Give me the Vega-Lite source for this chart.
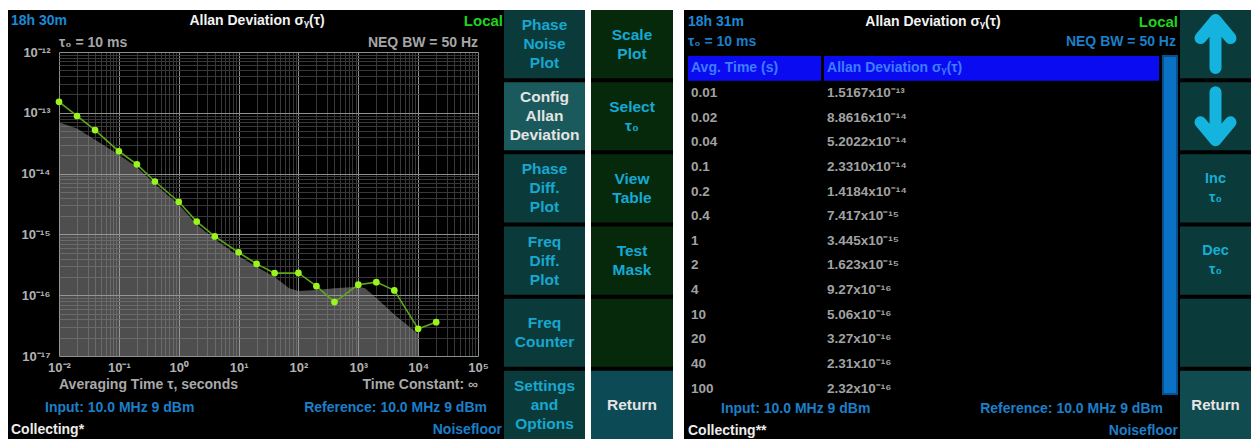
{
  "$schema": "https://vega.github.io/schema/vega-lite/v6.json",
  "background": "#000000",
  "padding": 0,
  "spacing": 0,
  "config": {
    "font": "Liberation Sans",
    "view": {"stroke": null},
    "concat": {"spacing": 0}
  },
  "datasets": {
    "adev": [
      {"tau": 0.01, "sigma": 1.5167e-13, "tauLabel": "0.01", "sigmaLabel": "1.5167x10⁻¹³"},
      {"tau": 0.02, "sigma": 8.8616e-14, "tauLabel": "0.02", "sigmaLabel": "8.8616x10⁻¹⁴"},
      {"tau": 0.04, "sigma": 5.2022e-14, "tauLabel": "0.04", "sigmaLabel": "5.2022x10⁻¹⁴"},
      {"tau": 0.1, "sigma": 2.3310e-14, "tauLabel": "0.1", "sigmaLabel": "2.3310x10⁻¹⁴"},
      {"tau": 0.2, "sigma": 1.4184e-14, "tauLabel": "0.2", "sigmaLabel": "1.4184x10⁻¹⁴"},
      {"tau": 0.4, "sigma": 7.417e-15, "tauLabel": "0.4", "sigmaLabel": "7.417x10⁻¹⁵"},
      {"tau": 1, "sigma": 3.445e-15, "tauLabel": "1", "sigmaLabel": "3.445x10⁻¹⁵"},
      {"tau": 2, "sigma": 1.623e-15, "tauLabel": "2", "sigmaLabel": "1.623x10⁻¹⁵"},
      {"tau": 4, "sigma": 9.27e-16, "tauLabel": "4", "sigmaLabel": "9.27x10⁻¹⁶"},
      {"tau": 10, "sigma": 5.06e-16, "tauLabel": "10", "sigmaLabel": "5.06x10⁻¹⁶"},
      {"tau": 20, "sigma": 3.27e-16, "tauLabel": "20", "sigmaLabel": "3.27x10⁻¹⁶"},
      {"tau": 40, "sigma": 2.31e-16, "tauLabel": "40", "sigmaLabel": "2.31x10⁻¹⁶"},
      {"tau": 100, "sigma": 2.32e-16, "tauLabel": "100", "sigmaLabel": "2.32x10⁻¹⁶"},
      {"tau": 200, "sigma": 1.41e-16},
      {"tau": 400, "sigma": 7.7e-17},
      {"tau": 1000, "sigma": 1.49e-16},
      {"tau": 2000, "sigma": 1.64e-16},
      {"tau": 4000, "sigma": 1.2e-16},
      {"tau": 10000, "sigma": 2.8e-17},
      {"tau": 20000, "sigma": 3.6e-17}
    ],
    "floor": [
      {"tau": 0.01, "sigma": 7.0e-14},
      {"tau": 0.02, "sigma": 5.5e-14},
      {"tau": 0.04, "sigma": 3.6e-14},
      {"tau": 0.1, "sigma": 2.05e-14},
      {"tau": 0.2, "sigma": 1.28e-14},
      {"tau": 0.4, "sigma": 6.7e-15},
      {"tau": 1, "sigma": 3.1e-15},
      {"tau": 2, "sigma": 1.45e-15},
      {"tau": 4, "sigma": 8.3e-16},
      {"tau": 10, "sigma": 4.4e-16},
      {"tau": 20, "sigma": 2.95e-16},
      {"tau": 40, "sigma": 2.0e-16},
      {"tau": 70, "sigma": 1.3e-16},
      {"tau": 100, "sigma": 1.17e-16},
      {"tau": 200, "sigma": 1.22e-16},
      {"tau": 400, "sigma": 1.3e-16},
      {"tau": 1000, "sigma": 1.38e-16},
      {"tau": 1300, "sigma": 1.3e-16},
      {"tau": 2000, "sigma": 9.0e-17},
      {"tau": 4000, "sigma": 4.8e-17},
      {"tau": 10000, "sigma": 2.3e-17}
    ],
    "leftHead": [
      {"id": "clock", "line": 1, "slot": "L", "text": "18h 30m"},
      {"id": "title", "line": 1, "slot": "C", "text": "Allan Deviation σᵧ(τ)"},
      {"id": "mode", "line": 1, "slot": "R", "text": "Local"}
    ],
    "plotNotes": [
      {"id": "tau0", "text": "τ₀ = 10 ms"},
      {"id": "bw", "text": "NEQ BW = 50 Hz"},
      {"id": "xtitle", "text": "Averaging Time τ, seconds"},
      {"id": "tc", "text": "Time Constant: ∞"}
    ],
    "rightHead": [
      {"id": "clock", "line": 1, "slot": "L", "text": "18h 31m"},
      {"id": "title", "line": 1, "slot": "C", "text": "Allan Deviation σᵧ(τ)"},
      {"id": "mode", "line": 1, "slot": "R", "text": "Local"},
      {"id": "tau0", "line": 2, "slot": "L", "text": "τ₀ = 10 ms"},
      {"id": "bw", "line": 2, "slot": "R", "text": "NEQ BW = 50 Hz"}
    ],
    "leftFoot": [
      {"id": "input", "line": "B", "slot": "L", "text": "Input: 10.0 MHz 9 dBm"},
      {"id": "ref", "line": "B", "slot": "R", "text": "Reference: 10.0 MHz 9 dBm"},
      {"id": "status", "line": "C", "slot": "L", "text": "Collecting*"},
      {"id": "meas", "line": "C", "slot": "R", "text": "Noisefloor"}
    ],
    "rightFoot": [
      {"id": "input", "line": "B", "slot": "L", "text": "Input: 10.0 MHz 9 dBm"},
      {"id": "ref", "line": "B", "slot": "R", "text": "Reference: 10.0 MHz 9 dBm"},
      {"id": "status", "line": "C", "slot": "L", "text": "Collecting**"},
      {"id": "meas", "line": "C", "slot": "R", "text": "Noisefloor"}
    ],
    "tableHead": [
      {"col": "time", "row": 0, "text": "Avg. Time (s)"},
      {"col": "adev", "row": 0, "text": "Allan Deviation σᵧ(τ)"}
    ],
    "btnA": [
      {"id": "a1", "label": "Phase\nNoise\nPlot", "state": "normal"},
      {"id": "a2", "label": "Config\nAllan\nDeviation", "state": "active"},
      {"id": "a3", "label": "Phase\nDiff.\nPlot", "state": "normal"},
      {"id": "a4", "label": "Freq\nDiff.\nPlot", "state": "normal"},
      {"id": "a5", "label": "Freq\nCounter", "state": "normal"},
      {"id": "a6", "label": "Settings\nand\nOptions", "state": "normal"}
    ],
    "btnB": [
      {"id": "b1", "label": "Scale\nPlot", "state": "normal"},
      {"id": "b2", "label": "Select\nτ₀", "state": "normal"},
      {"id": "b3", "label": "View\nTable", "state": "normal"},
      {"id": "b4", "label": "Test\nMask", "state": "normal"},
      {"id": "b5", "label": "", "state": "normal"},
      {"id": "b6", "label": "Return", "state": "return"}
    ],
    "btnC": [
      {"id": "c1", "label": "", "icon": "up", "state": "normal"},
      {"id": "c2", "label": "", "icon": "down", "state": "normal"},
      {"id": "c3", "label": "Inc\nτ₀", "icon": "", "state": "normal"},
      {"id": "c4", "label": "Dec\nτ₀", "icon": "", "state": "normal"},
      {"id": "c5", "label": "", "icon": "", "state": "normal"},
      {"id": "c6", "label": "Return", "icon": "", "state": "return"}
    ]
  },
  "resolve": {"scale": {"color": "independent", "fill": "independent"}},
  "vconcat": [
    {
      "width": 1251,
      "height": 10,
      "view": {"fill": "#ffffff"},
      "data": {"values": []},
      "mark": {"type": "point", "size": 0, "strokeWidth": 0}
    },
    {
      "spacing": 0,
      "resolve": {"scale": {"color": "independent", "fill": "independent"}},
      "hconcat": [
        {
          "width": 8,
          "height": 429,
          "view": {"fill": "#ffffff"},
          "data": {"values": []},
          "mark": {"type": "point", "size": 0, "strokeWidth": 0}
        },
        {
          "spacing": 0,
          "resolve": {"scale": {"color": "independent", "fill": "independent"}},
          "vconcat": [
            {
              "width": 496,
              "height": 26,
              "data": {"name": "leftHead"},
              "encoding": {
                "y": {"field": "line", "type": "ordinal", "scale": {"type": "point", "domain": [1], "align": 0.442}, "axis": null},
                "x": {"field": "slot", "type": "nominal", "scale": {"type": "point", "domain": ["L", "C", "R"], "padding": 0.00813, "align": 0.75}, "axis": null},
                "text": {"field": "text"},
                "color": {"field": "id", "type": "nominal", "scale": {"domain": ["clock", "title", "mode"], "range": ["#1b8ad6", "#f2f2f2", "#1ed41e"]}, "legend": null}
              },
              "layer": [
                {"transform": [{"filter": "datum.slot === 'L'"}], "mark": {"type": "text", "align": "left", "baseline": "middle", "fontSize": 14, "fontWeight": "bold"}},
                {"transform": [{"filter": "datum.slot === 'C'"}], "mark": {"type": "text", "align": "center", "baseline": "middle", "fontSize": 14, "fontWeight": "bold"}},
                {"transform": [{"filter": "datum.slot === 'R'"}], "mark": {"type": "text", "align": "right", "baseline": "middle", "fontSize": 15, "fontWeight": "bold"}}
              ]
            },
            {
              "spacing": 0,
              "hconcat": [
                {
                  "width": 1,
                  "height": 304,
                  "data": {"values": []},
                  "mark": {"type": "point", "size": 0, "strokeWidth": 0}
                },
                {
                  "width": 419,
                  "height": 304,
                  "layer": [
                    {
                      "data": {"name": "floor"},
                      "mark": {"type": "area", "color": "#9c9c9c", "opacity": 0.5},
                      "encoding": {
                        "x": {
                          "field": "tau",
                          "type": "quantitative",
                          "scale": {"type": "log", "domain": [0.01, 100000], "nice": false},
                          "axis": {
                            "title": null,
                            "tickCount": 40,
                            "labelExpr": "abs(log(datum.value) / LN10 - round(log(datum.value) / LN10)) < 0.001 ? '10' + replace(replace(replace(replace(replace(replace(replace(replace(replace(replace(replace('' + round(log(datum.value) / LN10), '-', '⁻'), '0', '⁰'), '1', '¹'), '2', '²'), '3', '³'), '4', '⁴'), '5', '⁵'), '6', '⁶'), '7', '⁷'), '8', '⁸'), '9', '⁹') : ''",
                            "labelOverlap": false,
                            "labelFlush": false,
                            "labelColor": "#b2b2b2",
                            "labelFontSize": 13,
                            "labelFontWeight": "bold",
                            "labelPadding": 5,
                            "ticks": false,
                            "domain": false,
                            "grid": true,
                            "gridColor": {"condition": {"test": "abs(log(datum.value) / LN10 - round(log(datum.value) / LN10)) < 0.001", "value": "#8e8e8e"}, "value": "#383838"},
                            "gridOpacity": 1,
                            "minExtent": 22,
                            "maxExtent": 22
                          }
                        },
                        "y": {
                          "field": "sigma",
                          "type": "quantitative",
                          "scale": {"type": "log", "domain": [1e-17, 1e-12], "nice": false},
                          "axis": {
                            "title": null,
                            "tickCount": 40,
                            "labelExpr": "abs(log(datum.value) / LN10 - round(log(datum.value) / LN10)) < 0.001 ? '10' + replace(replace(replace(replace(replace(replace(replace(replace(replace(replace(replace('' + round(log(datum.value) / LN10), '-', '⁻'), '0', '⁰'), '1', '¹'), '2', '²'), '3', '³'), '4', '⁴'), '5', '⁵'), '6', '⁶'), '7', '⁷'), '8', '⁸'), '9', '⁹') : ''",
                            "labelOverlap": false,
                            "labelFlush": false,
                            "labelColor": "#b2b2b2",
                            "labelFontSize": 13,
                            "labelFontWeight": "bold",
                            "labelPadding": 9,
                            "ticks": false,
                            "domain": false,
                            "grid": true,
                            "gridColor": {"condition": {"test": "abs(log(datum.value) / LN10 - round(log(datum.value) / LN10)) < 0.001", "value": "#8e8e8e"}, "value": "#383838"},
                            "gridOpacity": 1,
                            "minExtent": 50,
                            "maxExtent": 50
                          }
                        },
                        "y2": {"datum": 1e-17}
                      }
                    },
                    {
                      "data": {"name": "adev"},
                      "mark": {"type": "line", "color": "#5fa61c", "strokeWidth": 1.6},
                      "encoding": {
                        "x": {"field": "tau", "type": "quantitative"},
                        "y": {"field": "sigma", "type": "quantitative"}
                      }
                    },
                    {
                      "data": {"name": "adev"},
                      "mark": {"type": "point", "filled": true, "shape": "circle", "color": "#9af51e", "size": 45, "opacity": 1},
                      "encoding": {
                        "x": {"field": "tau", "type": "quantitative"},
                        "y": {"field": "sigma", "type": "quantitative"}
                      }
                    },
                    {
                      "data": {"name": "plotNotes"},
                      "transform": [{"filter": "datum.id === 'tau0'"}],
                      "mark": {"type": "text", "align": "left", "baseline": "middle", "dy": -9, "fontSize": 14, "fontWeight": "bold", "color": "#a6a6a6"},
                      "encoding": {"x": {"datum": 0.01, "type": "quantitative"}, "y": {"datum": 1e-12, "type": "quantitative"}, "text": {"field": "text"}}
                    },
                    {
                      "data": {"name": "plotNotes"},
                      "transform": [{"filter": "datum.id === 'bw'"}],
                      "mark": {"type": "text", "align": "right", "baseline": "middle", "dy": -9, "fontSize": 14, "fontWeight": "bold", "color": "#a6a6a6"},
                      "encoding": {"x": {"datum": 100000, "type": "quantitative"}, "y": {"datum": 1e-12, "type": "quantitative"}, "text": {"field": "text"}}
                    },
                    {
                      "data": {"name": "plotNotes"},
                      "transform": [{"filter": "datum.id === 'xtitle'"}],
                      "mark": {"type": "text", "align": "left", "baseline": "middle", "dy": 29, "fontSize": 14, "fontWeight": "bold", "color": "#a9a9a9"},
                      "encoding": {"x": {"datum": 0.01, "type": "quantitative"}, "y": {"datum": 1e-17, "type": "quantitative"}, "text": {"field": "text"}}
                    },
                    {
                      "data": {"name": "plotNotes"},
                      "transform": [{"filter": "datum.id === 'tc'"}],
                      "mark": {"type": "text", "align": "right", "baseline": "middle", "dy": 29, "fontSize": 14, "fontWeight": "bold", "color": "#a9a9a9"},
                      "encoding": {"x": {"datum": 100000, "type": "quantitative"}, "y": {"datum": 1e-17, "type": "quantitative"}, "text": {"field": "text"}}
                    }
                  ]
                }
              ]
            },
            {
              "width": 496,
              "height": 47,
              "data": {"name": "leftFoot"},
              "encoding": {
                "y": {"field": "line", "type": "nominal", "scale": {"type": "point", "domain": ["B", "C"], "padding": 0.568, "align": 0.64}, "axis": null},
                "text": {"field": "text"},
                "color": {"field": "id", "type": "nominal", "scale": {"domain": ["input", "ref", "status", "meas"], "range": ["#1b7fc9", "#1b7fc9", "#ececec", "#1b7fc9"]}, "legend": null}
              },
              "layer": [
                {
                  "transform": [{"filter": "datum.line === 'B'"}],
                  "encoding": {"x": {"field": "slot", "type": "nominal", "scale": {"type": "point", "domain": ["L", "C", "R"], "padding": 0.1222, "align": 0.685}, "axis": null}},
                  "layer": [
                    {"transform": [{"filter": "datum.slot === 'L'"}], "mark": {"type": "text", "align": "left", "baseline": "middle", "fontSize": 14, "fontWeight": "bold"}},
                    {"transform": [{"filter": "datum.slot === 'R'"}], "mark": {"type": "text", "align": "right", "baseline": "middle", "fontSize": 14, "fontWeight": "bold"}}
                  ]
                },
                {
                  "transform": [{"filter": "datum.line === 'C'"}],
                  "encoding": {"x": {"field": "slot", "type": "nominal", "scale": {"type": "point", "domain": ["L", "C", "R"], "padding": 0.0102, "align": 0.6}, "axis": null}},
                  "layer": [
                    {"transform": [{"filter": "datum.slot === 'L'"}], "mark": {"type": "text", "align": "left", "baseline": "middle", "fontSize": 14, "fontWeight": "bold"}},
                    {"transform": [{"filter": "datum.slot === 'R'"}], "mark": {"type": "text", "align": "right", "baseline": "middle", "fontSize": 14, "fontWeight": "bold"}}
                  ]
                }
              ],
              "resolve": {"scale": {"x": "independent"}}
            }
          ]
        },
        {
          "width": 81,
          "height": 429,
          "data": {"name": "btnA"},
          "encoding": {
            "y": {"field": "id", "type": "nominal", "scale": {"type": "band", "paddingInner": 0.055, "paddingOuter": 0}, "axis": null},
            "text": {"field": "label"},
            "color": {"field": "state", "type": "nominal", "scale": {"domain": ["normal", "active"], "range": ["#18a7cf", "#e4e4e4"]}, "legend": null}
          },
          "layer": [
            {"mark": {"type": "rect"}, "encoding": {"text": null, "color": null, "fill": {"field": "state", "type": "nominal", "scale": {"domain": ["normal", "active"], "range": ["#0b3a3b", "#1a5a5c"]}, "legend": null}}},
            {"transform": [{"filter": "length(split(datum.label, '\\n')) === 3"}], "mark": {"type": "text", "fontSize": 15.5, "fontWeight": "bold", "lineBreak": "\n", "lineHeight": 19, "baseline": "middle", "dy": -19}},
            {"transform": [{"filter": "length(split(datum.label, '\\n')) === 2"}], "mark": {"type": "text", "fontSize": 15.5, "fontWeight": "bold", "lineBreak": "\n", "lineHeight": 19, "baseline": "middle", "dy": -9.5}}
          ]
        },
        {
          "width": 6,
          "height": 429,
          "view": {"fill": "#ffffff"},
          "data": {"values": []},
          "mark": {"type": "point", "size": 0, "strokeWidth": 0}
        },
        {
          "width": 82,
          "height": 429,
          "data": {"name": "btnB"},
          "encoding": {
            "y": {"field": "id", "type": "nominal", "scale": {"type": "band", "paddingInner": 0.055, "paddingOuter": 0}, "axis": null},
            "text": {"field": "label"},
            "color": {"field": "state", "type": "nominal", "scale": {"domain": ["normal", "return"], "range": ["#16a8d6", "#e4e4e4"]}, "legend": null}
          },
          "layer": [
            {"mark": {"type": "rect"}, "encoding": {"text": null, "color": null, "fill": {"field": "state", "type": "nominal", "scale": {"domain": ["normal", "return"], "range": ["#06290b", "#0c4a56"]}, "legend": null}}},
            {"transform": [{"filter": "length(split(datum.label, '\\n')) === 2"}], "mark": {"type": "text", "fontSize": 15.5, "fontWeight": "bold", "lineBreak": "\n", "lineHeight": 19, "baseline": "middle", "dy": -9.5}},
            {"transform": [{"filter": "length(split(datum.label, '\\n')) === 1"}], "mark": {"type": "text", "fontSize": 15.5, "fontWeight": "bold", "baseline": "middle"}}
          ]
        },
        {
          "width": 11,
          "height": 429,
          "view": {"fill": "#ffffff"},
          "data": {"values": []},
          "mark": {"type": "point", "size": 0, "strokeWidth": 0}
        },
        {
          "spacing": 0,
          "resolve": {"scale": {"color": "independent", "fill": "independent"}},
          "vconcat": [
            {
              "width": 496,
              "height": 45,
              "data": {"name": "rightHead"},
              "encoding": {
                "y": {"field": "line", "type": "ordinal", "scale": {"type": "point", "domain": [1, 2], "padding": 0.625, "align": 0.46}, "axis": null},
                "text": {"field": "text"},
                "color": {"field": "id", "type": "nominal", "scale": {"domain": ["clock", "title", "mode", "tau0", "bw"], "range": ["#1b8ad6", "#f2f2f2", "#1ed41e", "#1b7fc9", "#1b7fc9"]}, "legend": null}
              },
              "layer": [
                {
                  "transform": [{"filter": "datum.line === 1"}],
                  "encoding": {"x": {"field": "slot", "type": "nominal", "scale": {"type": "point", "domain": ["L", "C", "R"], "padding": 0.0122, "align": 0.667}, "axis": null}},
                  "layer": [
                    {"transform": [{"filter": "datum.slot === 'L'"}], "mark": {"type": "text", "align": "left", "baseline": "middle", "fontSize": 14, "fontWeight": "bold"}},
                    {"transform": [{"filter": "datum.slot === 'C'"}], "mark": {"type": "text", "align": "center", "baseline": "middle", "fontSize": 14, "fontWeight": "bold"}},
                    {"transform": [{"filter": "datum.slot === 'R'"}], "mark": {"type": "text", "align": "right", "baseline": "middle", "fontSize": 15, "fontWeight": "bold"}}
                  ]
                },
                {
                  "transform": [{"filter": "datum.line === 2"}],
                  "encoding": {"x": {"field": "slot", "type": "nominal", "scale": {"type": "point", "domain": ["L", "C", "R"], "padding": 0.0164, "align": 0.5}, "axis": null}},
                  "layer": [
                    {"transform": [{"filter": "datum.slot === 'L'"}], "mark": {"type": "text", "align": "left", "baseline": "middle", "fontSize": 14, "fontWeight": "bold"}},
                    {"transform": [{"filter": "datum.slot === 'R'"}], "mark": {"type": "text", "align": "right", "baseline": "middle", "fontSize": 14, "fontWeight": "bold"}}
                  ]
                }
              ],
              "resolve": {"scale": {"x": "independent"}}
            },
            {
              "spacing": 3,
              "hconcat": [
                {
                  "width": 1,
                  "height": 345,
                  "data": {"values": []},
                  "mark": {"type": "point", "size": 0, "strokeWidth": 0}
                },
                {
                  "width": 133,
                  "height": 345,
                  "encoding": {"y": {"field": "row", "type": "ordinal", "scale": {"type": "band", "domain": [0, 1, 2, 3, 4, 5, 6, 7, 8, 9, 10, 11, 12, 13], "paddingInner": 0, "paddingOuter": 0}, "axis": null}},
                  "layer": [
                    {
                      "data": {"name": "tableHead"},
                      "transform": [{"filter": "datum.col === 'time'"}],
                      "mark": {"type": "rect", "color": "#0b0bf2"}
                    },
                    {
                      "data": {"name": "tableHead"},
                      "transform": [{"filter": "datum.col === 'time'"}],
                      "mark": {"type": "text", "align": "left", "baseline": "middle", "fontSize": 14, "fontWeight": "bold", "color": "#3d7dff"},
                      "encoding": {
                        "x": {"datum": "start", "type": "nominal", "scale": {"type": "point", "domain": ["start"], "align": 0.0226}, "axis": null},
                        "text": {"field": "text"}
                      }
                    },
                    {
                      "data": {"name": "adev"},
                      "transform": [
                        {"filter": "datum.tau <= 100"},
                        {"window": [{"op": "row_number", "as": "row"}], "sort": [{"field": "tau"}]}
                      ],
                      "mark": {"type": "text", "align": "left", "baseline": "middle", "fontSize": 13.5, "fontWeight": "bold", "color": "#a2a2a2"},
                      "encoding": {
                        "x": {"datum": "start", "type": "nominal", "scale": {"type": "point", "domain": ["start"], "align": 0.0226}, "axis": null},
                        "text": {"field": "tauLabel"}
                      }
                    }
                  ]
                },
                {
                  "width": 335,
                  "height": 345,
                  "encoding": {"y": {"field": "row", "type": "ordinal", "scale": {"type": "band", "domain": [0, 1, 2, 3, 4, 5, 6, 7, 8, 9, 10, 11, 12, 13], "paddingInner": 0, "paddingOuter": 0}, "axis": null}},
                  "layer": [
                    {
                      "data": {"name": "tableHead"},
                      "transform": [{"filter": "datum.col === 'adev'"}],
                      "mark": {"type": "rect", "color": "#0b0bf2"}
                    },
                    {
                      "data": {"name": "tableHead"},
                      "transform": [{"filter": "datum.col === 'adev'"}],
                      "mark": {"type": "text", "align": "left", "baseline": "middle", "fontSize": 14, "fontWeight": "bold", "color": "#3d7dff"},
                      "encoding": {
                        "x": {"datum": "start", "type": "nominal", "scale": {"type": "point", "domain": ["start"], "align": 0.009}, "axis": null},
                        "text": {"field": "text"}
                      }
                    },
                    {
                      "data": {"name": "adev"},
                      "transform": [
                        {"filter": "datum.tau <= 100"},
                        {"window": [{"op": "row_number", "as": "row"}], "sort": [{"field": "tau"}]}
                      ],
                      "mark": {"type": "text", "align": "left", "baseline": "middle", "fontSize": 13.5, "fontWeight": "bold", "color": "#a2a2a2"},
                      "encoding": {
                        "x": {"datum": "start", "type": "nominal", "scale": {"type": "point", "domain": ["start"], "align": 0.009}, "axis": null},
                        "text": {"field": "sigmaLabel"}
                      }
                    }
                  ]
                },
                {
                  "width": 14,
                  "height": 338,
                  "data": {"values": [{}]},
                  "mark": {"type": "rect", "color": "#0a72c4", "stroke": "#0a4f8c", "strokeWidth": 2},
                  "encoding": {}
                }
              ]
            },
            {
              "width": 496,
              "height": 39,
              "data": {"name": "rightFoot"},
              "encoding": {
                "y": {"field": "line", "type": "nominal", "scale": {"type": "point", "domain": ["B", "C"], "padding": 0.386, "align": 0.47}, "axis": null},
                "text": {"field": "text"},
                "color": {"field": "id", "type": "nominal", "scale": {"domain": ["input", "ref", "status", "meas"], "range": ["#1b7fc9", "#1b7fc9", "#ececec", "#1b7fc9"]}, "legend": null}
              },
              "layer": [
                {
                  "transform": [{"filter": "datum.line === 'B'"}],
                  "encoding": {"x": {"field": "slot", "type": "nominal", "scale": {"type": "point", "domain": ["L", "C", "R"], "padding": 0.1222, "align": 0.685}, "axis": null}},
                  "layer": [
                    {"transform": [{"filter": "datum.slot === 'L'"}], "mark": {"type": "text", "align": "left", "baseline": "middle", "fontSize": 14, "fontWeight": "bold"}},
                    {"transform": [{"filter": "datum.slot === 'R'"}], "mark": {"type": "text", "align": "right", "baseline": "middle", "fontSize": 14, "fontWeight": "bold"}}
                  ]
                },
                {
                  "transform": [{"filter": "datum.line === 'C'"}],
                  "encoding": {"x": {"field": "slot", "type": "nominal", "scale": {"type": "point", "domain": ["L", "C", "R"], "padding": 0.0122, "align": 0.667}, "axis": null}},
                  "layer": [
                    {"transform": [{"filter": "datum.slot === 'L'"}], "mark": {"type": "text", "align": "left", "baseline": "middle", "fontSize": 14, "fontWeight": "bold"}},
                    {"transform": [{"filter": "datum.slot === 'R'"}], "mark": {"type": "text", "align": "right", "baseline": "middle", "fontSize": 14, "fontWeight": "bold"}}
                  ]
                }
              ],
              "resolve": {"scale": {"x": "independent"}}
            }
          ]
        },
        {
          "width": 71,
          "height": 429,
          "data": {"name": "btnC"},
          "encoding": {
            "y": {"field": "id", "type": "nominal", "scale": {"type": "band", "paddingInner": 0.055, "paddingOuter": 0}, "axis": null},
            "text": {"field": "label"},
            "color": {"field": "state", "type": "nominal", "scale": {"domain": ["normal", "return"], "range": ["#17aed4", "#e4e4e4"]}, "legend": null}
          },
          "layer": [
            {"mark": {"type": "rect"}, "encoding": {"text": null, "color": null, "fill": {"field": "state", "type": "nominal", "scale": {"domain": ["normal", "return"], "range": ["#0b3a3b", "#0f4b4f"]}, "legend": null}}},
            {"transform": [{"filter": "length(split(datum.label, '\\n')) === 2"}], "mark": {"type": "text", "fontSize": 14.5, "fontWeight": "bold", "lineBreak": "\n", "lineHeight": 19, "baseline": "middle", "dy": -9.5}},
            {"transform": [{"filter": "datum.label !== '' && length(split(datum.label, '\\n')) === 1"}], "mark": {"type": "text", "fontSize": 15, "fontWeight": "bold", "baseline": "middle"}},
            {
              "transform": [{"filter": "datum.icon === 'up'"}],
              "mark": {"type": "point", "shape": "M-0.5,-0.2L0,-0.8L0.5,-0.2M0,-0.8L0,0.8", "size": 3600, "filled": false, "stroke": "#15b4de", "strokeWidth": 12, "strokeCap": "round", "strokeJoin": "round", "opacity": 1},
              "encoding": {"text": null, "color": null}
            },
            {
              "transform": [{"filter": "datum.icon === 'down'"}],
              "mark": {"type": "point", "shape": "M-0.5,0.2L0,0.8L0.5,0.2M0,0.8L0,-0.8", "size": 3600, "filled": false, "stroke": "#15b4de", "strokeWidth": 12, "strokeCap": "round", "strokeJoin": "round", "opacity": 1},
              "encoding": {"text": null, "color": null}
            }
          ]
        }
      ]
    }
  ]
}
